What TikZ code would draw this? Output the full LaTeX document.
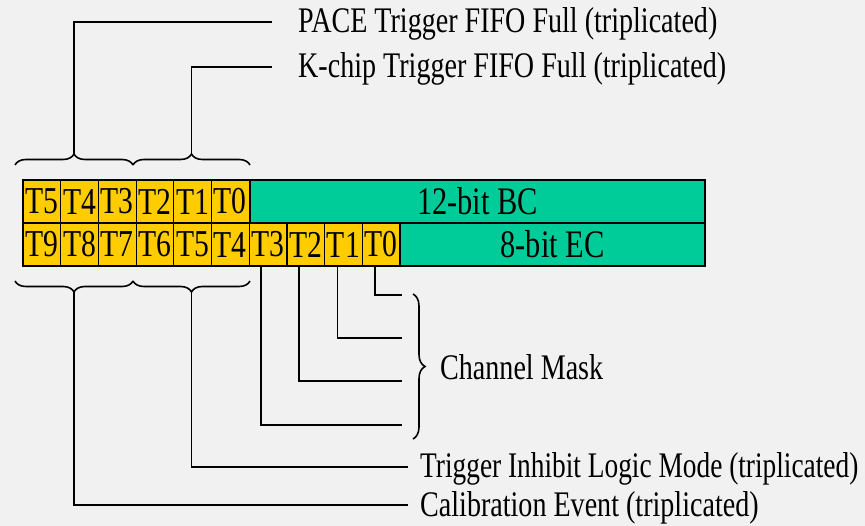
\documentclass[tikz,border=0pt]{standalone}
\usepackage{fontspec}
\setmainfont{Liberation Serif}
\newfontfamily\tnr[FakeStretch=0.78]{Liberation Serif}
\newfontfamily\tnrc[FakeStretch=0.76]{Liberation Serif}
\usetikzlibrary{decorations.pathreplacing}
\definecolor{bgc}{HTML}{F1F1F1}
\definecolor{gold}{HTML}{FFCC00}
\definecolor{bcgreen}{HTML}{00CC99}
\begin{document}
\begin{tikzpicture}[x=1pt,y=-1pt,
  cell/.style={draw=black, line width=1.2pt, fill=gold, minimum width=37.7pt, minimum height=43pt, inner sep=0pt, font={\tnr\fontsize{38}{40}\selectfont}},
  gbox/.style={draw=black, line width=1.2pt, fill=bcgreen, minimum height=43pt, inner sep=0pt, font={\tnr\fontsize{39}{40}\selectfont}},
  lbl/.style={anchor=base west, inner sep=0pt, font={\tnr\fontsize{36}{38}\selectfont}},
  wire/.style={draw=black, line width=1.6pt},
  brc/.style={draw=black, line width=1.6pt, decorate}]
\fill[bgc] (0,0) rectangle (865,526);
\useasboundingbox (0,0) rectangle (865,526);
% green fields
\node[gbox, minimum width=455pt] (bc) at (477.5,201.5) {12-bit BC};
\node[gbox, minimum width=305pt] (ec) at (552.5,244.5) {8-bit EC};
% row 1 cells
\foreach \i/\t in {0/T5,1/T4,2/T3,3/T2,4/T1,5/T0}
  \node[cell] (a\i) at ({23+37.7*(\i+0.5)},201.5) {\t};
% row 2 cells
\foreach \i/\t in {0/T9,1/T8,2/T7,3/T6,4/T5,5/T4,6/T3,7/T2,8/T1,9/T0}
  \node[cell] (b\i) at ({23+37.7*(\i+0.5)},244.5) {\t};
% top braces
\draw[brc, decoration={brace, amplitude=11pt}] (15,165) -- (133,165);
\draw[brc, decoration={brace, amplitude=11pt}] (133,165) -- (250,165);
\coordinate (ta) at (74,154);
\coordinate (tb) at (191.5,154);
% bottom braces
\draw[brc, decoration={brace, amplitude=11pt}] (133,281) -- (15,281);
\draw[brc, decoration={brace, amplitude=11pt}] (250,281) -- (133,281);
\coordinate (ba) at (74,292);
\coordinate (bb) at (191.5,292);
% labels
\node[lbl] (pace) at (298,33) {PACE Trigger FIFO Full (triplicated)};
\node[lbl] (kchip) at (298,78) {K-chip Trigger FIFO Full (triplicated)};
\node[lbl, font={\tnrc\fontsize{36}{38}\selectfont}] (til) at (420,478) {Trigger Inhibit Logic Mode (triplicated)};
\node[lbl] (cal) at (420,516) {Calibration Event (triplicated)};
\node[lbl] (cm) at (440,380) {Channel Mask};
\coordinate (paceE) at (272,22);
\coordinate (kchipE) at (272,67);
\coordinate (tilE) at (408,467);
\coordinate (calE) at (408,505);
\draw[wire] (ta) |- (paceE);
\draw[wire] (tb) |- (kchipE);
\draw[wire] (bb) |- (tilE);
\draw[wire] (ba) |- (calE);
% channel mask wires
\coordinate (m0) at (402,295);
\coordinate (m1) at (402,338);
\coordinate (m2) at (402,381);
\coordinate (m3) at (402,425);
\draw[wire] ([xshift=-7pt]b6.south) |- (m3);
\draw[wire] ([xshift=-7pt]b7.south) |- (m2);
\draw[wire] ([xshift=-6pt]b8.south) |- (m1);
\draw[wire] ([xshift=-6pt]b9.south) |- (m0);
\draw[brc, decoration={brace, amplitude=12pt}] (413,294) -- (413,439);
\end{tikzpicture}
\end{document}
